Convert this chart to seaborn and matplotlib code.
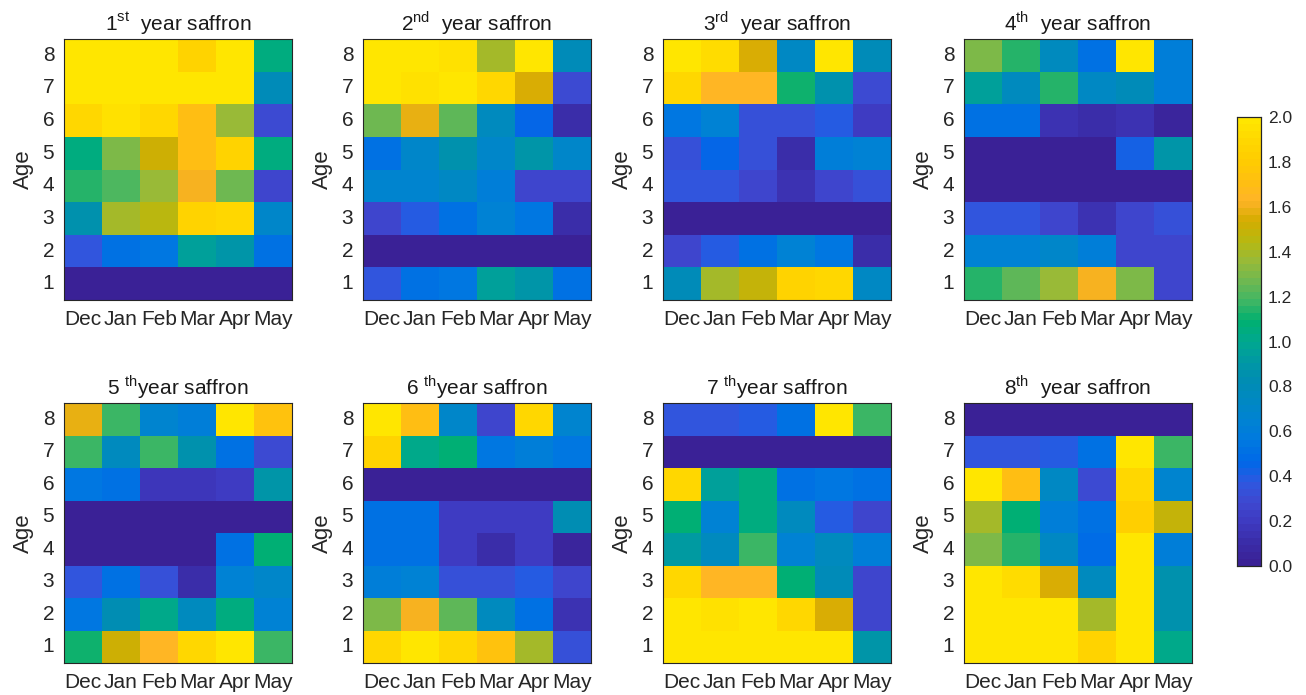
import numpy as np
import pandas as pd
import matplotlib
matplotlib.use("Agg")
import matplotlib.pyplot as plt
import seaborn as sns
from matplotlib.colors import LinearSegmentedColormap

months = ["Dec", "Jan", "Feb", "Mar", "Apr", "May"]
ages = [8, 7, 6, 5, 4, 3, 2, 1]  # top to bottom

# rows: age 8 -> age 1 ; columns: Dec..May
year1 = [[2.00, 2.00, 2.00, 1.85, 2.00, 1.05],
         [2.00, 2.00, 2.00, 2.00, 2.00, 0.80],
         [1.90, 1.95, 1.88, 1.70, 1.35, 0.30],
         [1.05, 1.30, 1.50, 1.70, 1.85, 1.05],
         [1.15, 1.20, 1.35, 1.60, 1.25, 0.25],
         [0.85, 1.40, 1.45, 1.85, 1.90, 0.70],
         [0.35, 0.50, 0.55, 0.95, 0.90, 0.50],
         [0.00, 0.00, 0.00, 0.00, 0.00, 0.00]]
year2 = [[2.00, 2.00, 1.95, 1.40, 2.00, 0.80],
         [2.00, 1.95, 2.00, 1.90, 1.55, 0.30],
         [1.27, 1.57, 1.22, 0.75, 0.45, 0.10],
         [0.50, 0.70, 0.85, 0.70, 0.90, 0.70],
         [0.68, 0.68, 0.72, 0.62, 0.25, 0.25],
         [0.25, 0.40, 0.50, 0.65, 0.55, 0.10],
         [0.00, 0.00, 0.00, 0.00, 0.00, 0.00],
         [0.35, 0.50, 0.55, 0.95, 0.90, 0.50]]
year3 = [[2.00, 1.92, 1.55, 0.72, 2.00, 0.80],
         [1.88, 1.65, 1.65, 1.10, 0.85, 0.30],
         [0.55, 0.65, 0.32, 0.32, 0.40, 0.20],
         [0.32, 0.45, 0.32, 0.10, 0.60, 0.65],
         [0.35, 0.35, 0.25, 0.15, 0.25, 0.33],
         [0.00, 0.00, 0.00, 0.00, 0.00, 0.00],
         [0.27, 0.40, 0.50, 0.65, 0.55, 0.10],
         [0.80, 1.40, 1.47, 1.85, 1.90, 0.72]]
year4 = [[1.30, 1.15, 0.75, 0.50, 2.00, 0.62],
         [0.95, 0.75, 1.15, 0.72, 0.80, 0.62],
         [0.50, 0.50, 0.15, 0.10, 0.15, 0.05],
         [0.00, 0.00, 0.00, 0.00, 0.42, 0.88],
         [0.00, 0.00, 0.00, 0.00, 0.00, 0.00],
         [0.35, 0.35, 0.25, 0.15, 0.25, 0.33],
         [0.65, 0.65, 0.70, 0.62, 0.28, 0.28],
         [1.15, 1.22, 1.35, 1.60, 1.30, 0.28]]
year5 = [[1.57, 1.18, 0.68, 0.62, 2.00, 1.72],
         [1.18, 0.75, 1.18, 0.85, 0.50, 0.30],
         [0.55, 0.50, 0.18, 0.18, 0.20, 0.90],
         [0.00, 0.00, 0.00, 0.00, 0.00, 0.00],
         [0.00, 0.00, 0.00, 0.00, 0.50, 1.08],
         [0.35, 0.50, 0.33, 0.10, 0.65, 0.70],
         [0.55, 0.82, 1.02, 0.75, 1.05, 0.65],
         [1.12, 1.50, 1.65, 1.90, 2.00, 1.17]]
year6 = [[2.00, 1.70, 0.70, 0.28, 1.90, 0.68],
         [1.87, 1.00, 1.08, 0.55, 0.60, 0.55],
         [0.00, 0.00, 0.00, 0.00, 0.00, 0.00],
         [0.52, 0.52, 0.20, 0.20, 0.20, 0.82],
         [0.52, 0.52, 0.20, 0.10, 0.20, 0.05],
         [0.60, 0.65, 0.33, 0.32, 0.40, 0.25],
         [1.30, 1.60, 1.22, 0.78, 0.50, 0.15],
         [1.90, 1.97, 1.88, 1.72, 1.40, 0.33]]
year7 = [[0.35, 0.35, 0.40, 0.50, 2.00, 1.18],
         [0.00, 0.00, 0.00, 0.00, 0.00, 0.00],
         [1.88, 0.95, 1.05, 0.52, 0.55, 0.50],
         [1.08, 0.65, 1.05, 0.75, 0.40, 0.28],
         [0.92, 0.75, 1.18, 0.65, 0.78, 0.60],
         [1.88, 1.65, 1.65, 1.08, 0.80, 0.28],
         [2.00, 1.95, 1.98, 1.90, 1.55, 0.28],
         [2.00, 2.00, 2.00, 2.00, 2.00, 0.88]]
year8 = [[0.00, 0.00, 0.00, 0.00, 0.00, 0.00],
         [0.35, 0.35, 0.40, 0.50, 2.00, 1.18],
         [2.00, 1.70, 0.72, 0.30, 1.88, 0.68],
         [1.40, 1.08, 0.62, 0.52, 1.83, 1.47],
         [1.30, 1.15, 0.72, 0.47, 2.00, 0.62],
         [2.00, 1.93, 1.55, 0.75, 2.00, 0.85],
         [2.00, 2.00, 1.97, 1.40, 2.00, 0.85],
         [2.00, 2.00, 2.00, 1.85, 2.00, 1.02]]

titles = ["1$^{\\mathrm{st}}$  year saffron", "2$^{\\mathrm{nd}}$  year saffron",
          "3$^{\\mathrm{rd}}$  year saffron", "4$^{\\mathrm{th}}$  year saffron",
          "5 $^{\\mathrm{th}}$year saffron", "6 $^{\\mathrm{th}}$year saffron",
          "7 $^{\\mathrm{th}}$year saffron", "8$^{\\mathrm{th}}$  year saffron"]
datasets = [year1, year2, year3, year4, year5, year6, year7, year8]

sns.set_style("white")
plt.rcParams["font.family"] = ["Liberation Sans", "DejaVu Sans"]
plt.rcParams["mathtext.fontset"] = "custom"
plt.rcParams["mathtext.rm"] = "Liberation Sans"
plt.rcParams["text.color"] = "#1a1a1a"

anchors = ["#3A2196", "#3A2CA8", "#3E3AC0", "#3E48D0", "#2E58E0", "#0068E8",
           "#0078E0", "#0082D4", "#0088C4", "#008CB4", "#0098A4", "#00A890",
           "#00B070", "#40B664", "#70B850", "#98BA38", "#B8B810", "#D4AC00",
           "#FFB428", "#FFC010", "#FFCC00", "#FFD800", "#FFE600"]
parula_like = LinearSegmentedColormap.from_list("parula_like", anchors, N=64)

W, H = 1306, 695
fig = plt.figure(figsize=(W / 100, H / 100), dpi=100)
lefts = [64, 363, 663, 964]
rows = [(39, 300), (403, 663)]
cax = fig.add_axes([1237 / W, 1 - 566 / H, 24 / W, 449 / H])

for i, (data, title) in enumerate(zip(datasets, titles)):
    r, c = divmod(i, 4)
    top, bot = rows[r]
    ax = fig.add_axes([lefts[c] / W, 1 - bot / H, 228 / W, (bot - top) / H])
    df = pd.DataFrame(data, index=ages, columns=months)
    last = i == len(datasets) - 1
    sns.heatmap(df, ax=ax, cmap=parula_like, vmin=0, vmax=2,
                cbar=last, cbar_ax=cax if last else None,
                cbar_kws={"ticks": np.arange(0, 2.01, 0.2), "format": "%.1f"} if last else None)
    for sp in ax.spines.values():
        sp.set_visible(True)
        sp.set_color("#262626")
        sp.set_linewidth(0.8)
    ax.tick_params(axis="both", direction="in", length=4, width=0.7, color="#262626",
                   top=True, right=True, labeltop=False, labelright=False,
                   labelsize=15, pad=7)
    ax.set_yticklabels(ages, rotation=0)
    ax.set_xticklabels(months, rotation=0)
    ax.set_title(title, fontsize=15, pad=6)
    ax.set_ylabel("Age", fontsize=16, labelpad=6)
    ax.set_xlabel("")

cax.tick_params(direction="in", length=4, width=0.7, labelsize=12.5, color="#262626", pad=5)
for sp in cax.spines.values():
    sp.set_visible(True)
    sp.set_color("#262626")
    sp.set_linewidth(0.8)
cax.set_frame_on(True)

fig.savefig("out.png", dpi=100)
